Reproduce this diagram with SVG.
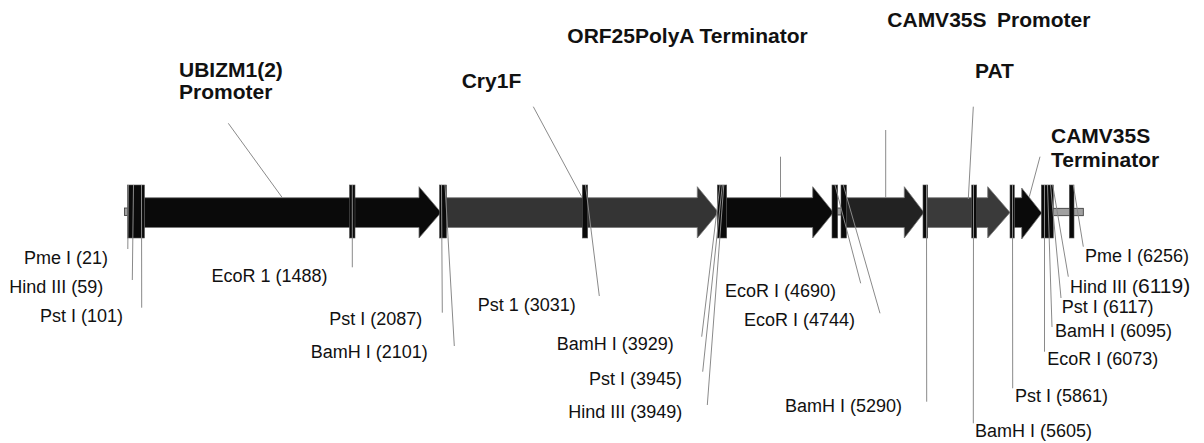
<svg xmlns="http://www.w3.org/2000/svg" width="1204" height="443" viewBox="0 0 1204 443">
<style>
.lbl{font-family:"Liberation Sans",Arial,sans-serif;font-size:18px;fill:#111}
.ttl{font-family:"Liberation Sans",Arial,sans-serif;font-size:21px;font-weight:bold;fill:#111}
.site{fill:#0a0a0a;stroke:#555;stroke-width:0.6}
.gene{stroke:#777;stroke-width:0.8}
.bb{fill:#a0a0a0;stroke:#333;stroke-width:0.8}
.ld{stroke:#8a8a8a;stroke-width:1;fill:none}
</style>
<rect width="1204" height="443" fill="#fff"/>
<g id="backbone">
<rect class="bb" x="124.5" y="208" width="4" height="7.5"/>
<rect class="bb" x="836" y="208" width="6" height="7"/>
<rect class="bb" x="1052" y="208.3" width="31.3" height="7.4"/>
</g>
<g id="UBIZM1">
<path class="gene" fill="#0a0a0a" d="M144.5,197.7 H419 V186.7 L441,212.5 L419,238 V227.5 H144.5 Z"/>
<text class="ttl" x="179" y="76.7">UBIZM1(2)</text>
<text class="ttl" x="179" y="99.3">Promoter</text>
</g>
<g id="Cry1F">
<path class="gene" fill="#343434" d="M446.5,197.7 H697.3 V186.7 L718.5,212.5 L697.3,238 V227.5 H446.5 Z"/>
<text class="ttl" x="461.7" y="88.3">Cry1F</text>
</g>
<g id="ORF25">
<path class="gene" fill="#0a0a0a" d="M726.5,197.7 H812.7 V186.7 L833.5,212.5 L812.7,238 V227.5 H726.5 Z"/>
<text class="ttl" x="567.3" y="43">ORF25PolyA Terminator</text>
</g>
<g id="CAMV35S-Promoter">
<path class="gene" fill="#222" d="M846,197.7 H904.3 V186.7 L924,212.5 L904.3,238 V227.5 H846 Z"/>
<text class="ttl" y="26.7"><tspan x="887.3">CAMV35S</tspan><tspan x="997">Promoter</tspan></text>
</g>
<g id="PAT">
<path class="gene" fill="#3a3a3a" d="M927.5,197.7 H987.7 V186.7 L1010,212.5 L987.7,238 V227.5 H927.5 Z"/>
<text class="ttl" x="975" y="78.3">PAT</text>
</g>
<g id="CAMV35S-Terminator">
<path class="gene" fill="#0a0a0a" d="M1014,197.7 H1021.7 V188 L1041.7,213 L1021.7,239 V227.5 H1014 Z"/>
<text class="ttl" x="1051" y="142.7">CAMV35S</text>
<text class="ttl" x="1051" y="166.7">Terminator</text>
</g>
<g id="sites">
<rect class="site" x="127.5" y="185" width="17" height="53"/>
<rect class="site" x="349.5" y="185" width="5.5" height="53"/>
<rect class="site" x="439.5" y="185" width="7" height="53"/>
<rect class="site" x="582.3" y="185" width="5.4" height="53"/>
<rect class="site" x="717.3" y="185" width="9.4" height="53"/>
<rect class="site" x="832" y="185" width="5.7" height="53"/>
<rect class="site" x="841" y="185" width="5.5" height="53"/>
<rect class="site" x="923" y="185" width="4.7" height="53"/>
<rect class="site" x="971.7" y="185" width="5" height="53"/>
<rect class="site" x="1010" y="185" width="4.3" height="53"/>
<rect class="site" x="1041.3" y="185" width="12" height="53"/>
<rect class="site" x="1069.3" y="185" width="4.7" height="53"/>
</g>
<g id="connectors">
<line class="ld" x1="228.3" y1="123.3" x2="282.3" y2="197.7"/>
<line class="ld" x1="533.3" y1="106.7" x2="581.7" y2="196.7"/>
<line class="ld" x1="780.5" y1="156.7" x2="780.5" y2="197"/>
<line class="ld" x1="885.7" y1="130" x2="885.7" y2="198"/>
<line class="ld" x1="973.3" y1="106.7" x2="968.3" y2="199"/>
<line class="ld" x1="1040" y1="156.7" x2="1029.3" y2="196.7"/>
<line class="ld" x1="128.3" y1="185" x2="127.8" y2="249"/>
<line class="ld" x1="133.5" y1="185" x2="132.3" y2="280"/>
<line class="ld" x1="141.5" y1="185" x2="141.7" y2="307.7"/>
<line class="ld" x1="352.3" y1="185" x2="352.3" y2="267.3"/>
<line class="ld" x1="441.5" y1="185" x2="442.3" y2="312.7"/>
<line class="ld" x1="445" y1="185" x2="454.3" y2="346"/>
<line class="ld" x1="585.5" y1="185" x2="599.3" y2="296"/>
<line class="ld" x1="720" y1="185" x2="701.7" y2="336.7"/>
<line class="ld" x1="722.3" y1="185" x2="702.7" y2="371.7"/>
<line class="ld" x1="723.8" y1="185" x2="707.3" y2="405"/>
<line class="ld" x1="835" y1="185" x2="860.7" y2="283.3"/>
<line class="ld" x1="843.3" y1="185" x2="880" y2="313.3"/>
<line class="ld" x1="926.5" y1="185" x2="926.7" y2="401.7"/>
<line class="ld" x1="973.5" y1="185" x2="973.3" y2="423.3"/>
<line class="ld" x1="1012.5" y1="185" x2="1012.7" y2="388.3"/>
<line class="ld" x1="1044.5" y1="185" x2="1044.5" y2="351.7"/>
<line class="ld" x1="1047.5" y1="185" x2="1052" y2="327"/>
<line class="ld" x1="1050.5" y1="185" x2="1061" y2="298"/>
<line class="ld" x1="1052.7" y1="185" x2="1068.3" y2="276.7"/>
<line class="ld" x1="1073.3" y1="185" x2="1083.3" y2="246.7"/>
</g>
<g id="site-labels">
<text class="lbl" x="24" y="264">Pme I (21)</text>
<text class="lbl" x="9.3" y="293">Hind III (59)</text>
<text class="lbl" x="40" y="322">Pst I (101)</text>
<text class="lbl" x="211.5" y="281.5">EcoR 1 (1488)</text>
<text class="lbl" x="329.3" y="325">Pst I (2087)</text>
<text class="lbl" x="310.7" y="358">BamH I (2101)</text>
<text class="lbl" x="477.7" y="311">Pst 1 (3031)</text>
<text class="lbl" x="556.7" y="350">BamH I (3929)</text>
<text class="lbl" x="589" y="385">Pst I (3945)</text>
<text class="lbl" x="568.3" y="418">Hind III (3949)</text>
<text class="lbl" x="725" y="296.5">EcoR I (4690)</text>
<text class="lbl" x="744" y="325.5">EcoR I (4744)</text>
<text class="lbl" x="902" y="411.5" text-anchor="end">BamH I (5290)</text>
<text class="lbl" x="975" y="436.5">BamH I (5605)</text>
<text class="lbl" x="1015" y="401.5">Pst I (5861)</text>
<text class="lbl" x="1047.3" y="365">EcoR I (6073)</text>
<text class="lbl" x="1055" y="337">BamH I (6095)</text>
<text class="lbl" x="1061.7" y="313">Pst I (6117)</text>
<text class="lbl" x="1070" y="293">Hind III (<tspan font-size="21">6119)</tspan></text>
<text class="lbl" x="1085" y="261.5">Pme I (6256)</text>
</g>
</svg>
